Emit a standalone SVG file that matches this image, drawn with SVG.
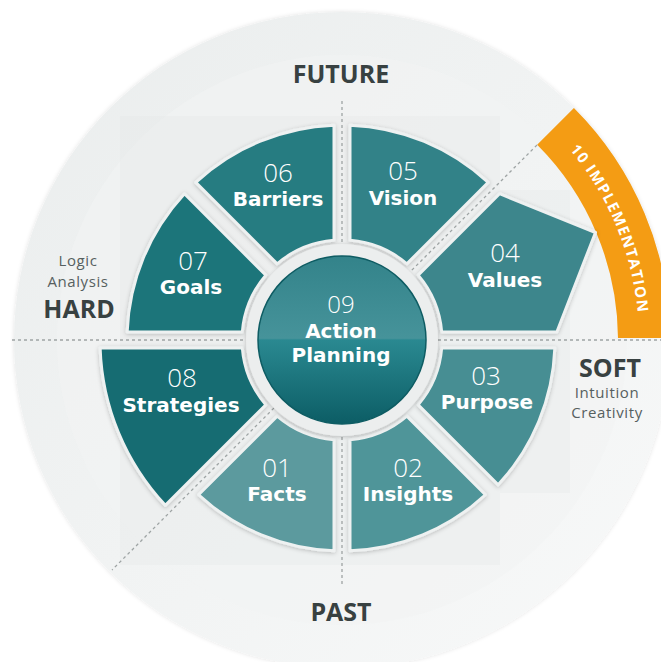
<svg xmlns="http://www.w3.org/2000/svg" width="661" height="662" viewBox="0 0 661 662">
<defs>
<style>
.title{font-family:"Open Sans","Liberation Sans",sans-serif;font-weight:700;font-size:25px;fill:#384141;text-anchor:middle}
.small{font-family:"Open Sans","Liberation Sans",sans-serif;font-weight:400;font-size:15px;fill:#566060;text-anchor:middle;letter-spacing:0.6px}
.num{font-family:"Open Sans","Liberation Sans",sans-serif;font-weight:300;font-size:26px;fill:#ffffff;text-anchor:middle}
.lbl{font-family:"DejaVu Sans","Verdana",sans-serif;font-weight:700;font-size:20px;fill:#ffffff;text-anchor:middle}
.seg{stroke:#eef1f1;stroke-width:3;stroke-linejoin:round;filter:url(#sh)}
.dash{stroke:#9ea4a4;stroke-width:1.3;stroke-dasharray:3 3;fill:none}
.impl{font-family:"Open Sans","Liberation Sans",sans-serif;font-weight:700;font-size:15px;fill:#ffffff;letter-spacing:1.3px}
</style>
<linearGradient id="bg" x1="0" y1="0" x2="1" y2="1">
<stop offset="0" stop-color="#eaeded"/>
<stop offset="1" stop-color="#f8f9f9"/>
</linearGradient>
<linearGradient id="cc" x1="0" y1="0" x2="0" y2="1">
<stop offset="0" stop-color="#33838a"/>
<stop offset="0.49" stop-color="#46939a"/>
<stop offset="0.5" stop-color="#2a8991"/>
<stop offset="1" stop-color="#0c5d65"/>
</linearGradient>
<filter id="sh" x="-10%" y="-10%" width="120%" height="120%">
<feDropShadow dx="0" dy="1" stdDeviation="2" flood-color="#000" flood-opacity="0.22"/>
</filter>
<filter id="osh" x="-5%" y="-5%" width="110%" height="110%">
<feDropShadow dx="0" dy="0" stdDeviation="2" flood-color="#000" flood-opacity="0.12"/>
</filter>
<path id="arcText" d="M552 130 A297 297 0 0 1 639 340"/>
</defs>

<g id="background">
<rect width="661" height="662" fill="#ffffff"/>
<circle cx="342" cy="340" r="328" fill="url(#bg)" filter="url(#osh)"/>
<circle cx="342" cy="340" r="285" fill="#f2f4f4" opacity="0.6"/>
<rect x="120" y="116" width="380" height="449" fill="#e4e8e8" opacity="0.35"/>
<rect x="500" y="190" width="70" height="303" fill="#e4e8e8" opacity="0.35"/>
</g>

<g id="implementation">
<path d="M537.16 144.84 L573.93 108.07 A328 328 0 0 1 670 338 L618 338 A276 276 0 0 0 537.16 144.84 Z" fill="#f49c14"/>
<text class="impl"><textPath href="#arcText" startOffset="50%" text-anchor="middle">10 IMPLEMENTATION</textPath></text>
</g>

<g id="connectors">
<line class="dash" x1="12" y1="340" x2="661" y2="340"/>
<line class="dash" x1="342" y1="101" x2="342" y2="585"/>
<line class="dash" x1="537" y1="145" x2="112" y2="570"/>
</g>

<g id="labels">
<text class="title" x="341" y="83">FUTURE</text>
<text class="title" x="341" y="621">PAST</text>
<text class="small" x="78" y="266">Logic</text>
<text class="small" x="78" y="287">Analysis</text>
<text class="title" x="79" y="318">HARD</text>
<text class="title" x="610" y="377">SOFT</text>
<text class="small" x="607" y="398">Intuition</text>
<text class="small" x="607" y="418">Creativity</text>
</g>

<g id="n06">
<path class="seg" fill="#287b81" d="M334 240.32 L334 125.15 A215 215 0 0 0 195.73 182.42 L277.17 263.86 A100 100 0 0 1 334 240.32 Z"/>
<text class="num" x="278" y="182">06</text>
<text class="lbl" x="278" y="206">Barriers</text>
</g>
<g id="n05">
<path class="seg" fill="#338288" d="M406.83 263.86 L488.27 182.42 A215 215 0 0 0 350 125.15 L350 240.32 A100 100 0 0 1 406.83 263.86 Z"/>
<text class="num" x="403" y="180">05</text>
<text class="lbl" x="403" y="205">Vision</text>
</g>
<g id="n04">
<path class="seg" fill="#3d868c" d="M441.68 332 L556.85 332 L595.5 232.5 L499.58 193.73 L418.14 275.17 A100 100 0 0 1 441.68 332 Z"/>
<text class="num" x="505" y="262">04</text>
<text class="lbl" x="505" y="287">Values</text>
</g>
<g id="n07">
<path class="seg" fill="#1f747a" d="M265.86 275.17 L184.42 193.73 A215 215 0 0 0 127.15 332 L242.32 332 A100 100 0 0 1 265.86 275.17 Z"/>
<text class="num" x="193" y="270">07</text>
<text class="lbl" x="191" y="294">Goals</text>
</g>
<g id="n08">
<path class="seg" fill="#166c72" d="M242.32 348 L100.13 348 A242 242 0 0 0 165.31 505.37 L265.86 404.83 A100 100 0 0 1 242.32 348 Z"/>
<text class="num" x="182" y="387">08</text>
<text class="lbl" x="181" y="412">Strategies</text>
</g>
<g id="n01">
<path class="seg" fill="#5b9a9e" d="M277.17 416.14 L198.56 494.75 A211 211 0 0 0 334 550.85 L334 439.68 A100 100 0 0 1 277.17 416.14 Z"/>
<text class="num" x="277" y="477">01</text>
<text class="lbl" x="277" y="501">Facts</text>
</g>
<g id="n02">
<path class="seg" fill="#509599" d="M350 439.68 L350 550.85 A211 211 0 0 0 485.44 494.75 L406.83 416.14 A100 100 0 0 1 350 439.68 Z"/>
<text class="num" x="408" y="477">02</text>
<text class="lbl" x="408" y="501">Insights</text>
</g>
<g id="n03">
<path class="seg" fill="#468e93" d="M418.14 404.83 L498.16 484.85 A213 213 0 0 0 554.85 348 L441.68 348 A100 100 0 0 1 418.14 404.83 Z"/>
<text class="num" x="486" y="385">03</text>
<text class="lbl" x="487" y="409">Purpose</text>
</g>
<g id="n09">
<circle cx="342" cy="340" r="90" fill="none" stroke="#eceeee" stroke-width="12" filter="url(#sh)"/>
<circle cx="342" cy="340" r="84" fill="url(#cc)" stroke="#0e5c63" stroke-width="1.5"/>
<text class="num" x="341" y="313" style="font-size:24px">09</text>
<text class="lbl" x="341" y="338">Action</text>
<text class="lbl" x="341" y="362">Planning</text>
</g>
</svg>
